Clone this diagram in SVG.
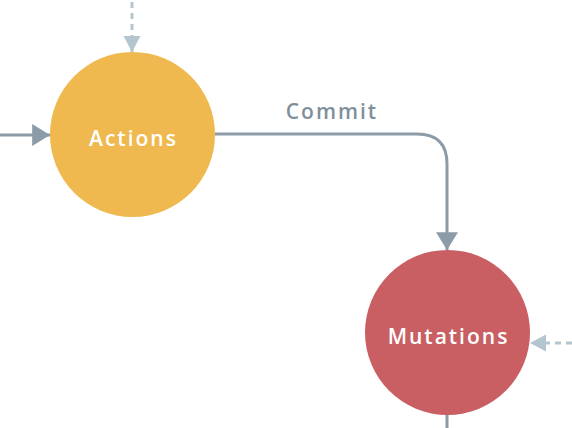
<svg xmlns="http://www.w3.org/2000/svg" width="572" height="428" viewBox="0 0 572 428">
<style>
.solid{fill:none;stroke:#8b9ba7;stroke-width:3}
.dot{fill:none;stroke:#b3c6cf;stroke-width:3;stroke-dasharray:6 5}
.lbl{font-family:"Open Sans","Liberation Sans",sans-serif;font-weight:600;font-size:21px;letter-spacing:2px;text-anchor:middle}
</style>
<defs>
<marker id="ah" markerUnits="userSpaceOnUse" markerWidth="22" markerHeight="22" refX="17" refY="10.5" orient="auto" viewBox="0 0 17 21"><path d="M0,0 L17,10.5 L0,21 Z" fill="#8b9ba7"/></marker>
<marker id="ahd" markerUnits="userSpaceOnUse" markerWidth="16" markerHeight="18" refX="15" refY="8" orient="auto" viewBox="0 0 15 16"><path d="M0,0 L15,8 L0,16 Z" fill="#b3c6cf"/></marker>
</defs>
<g id="connectors">
<path class="solid" d="M0,135 L50,135" marker-end="url(#ah)"/>
<path class="dot" d="M132,2 L132,52" marker-end="url(#ahd)"/>
<path class="solid" d="M215,134 L417,134 Q447,134 447,164 L447,250" marker-end="url(#ah)"/>
<text class="lbl" x="332" y="119" fill="#7f8f9a">Commit</text>
<path class="dot" d="M572,343 L530,343" stroke-dasharray="0 4 6 5 6 5 6 5" marker-end="url(#ahd)"/>
<path class="solid" d="M447,414 L447,428"/>
</g>
<g id="actions">
<circle cx="132.5" cy="134.5" r="82.5" fill="#f0b94f"/>
<text class="lbl" x="133.5" y="146" fill="#ffffff">Actions</text>
</g>
<g id="mutations">
<circle cx="447.5" cy="332.5" r="82.5" fill="#c95f63"/>
<text class="lbl" x="448.5" y="344" fill="#ffffff">Mutations</text>
</g>
</svg>
